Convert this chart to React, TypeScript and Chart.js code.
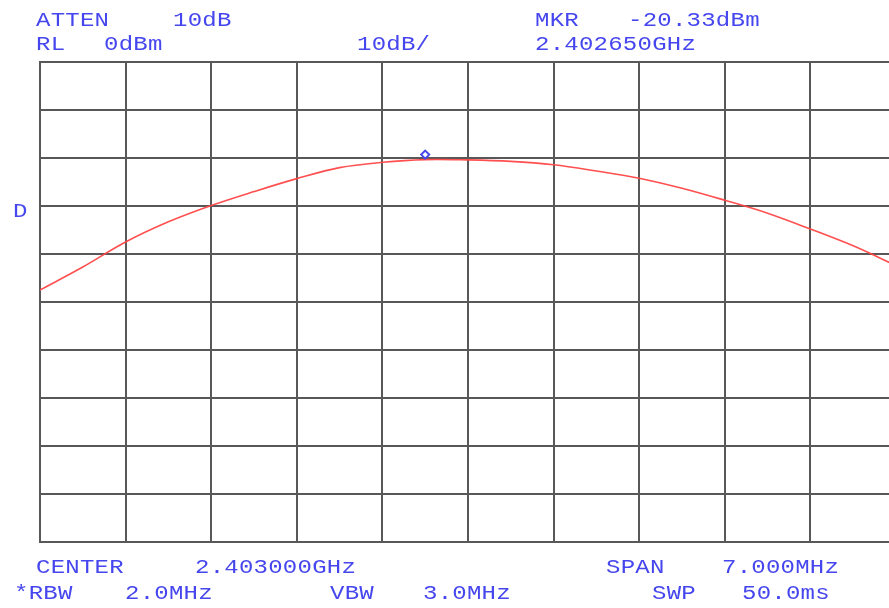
import React, { useEffect, useRef } from "react";
import { Chart, registerables } from "chart.js";

Chart.register(...registerables);

// Frequency axis in MHz (center 2403.000 MHz, span 7.000 MHz)
const freqMHz = [
  2399.5, 2399.85, 2400.2, 2400.55, 2400.9, 2401.25, 2401.6, 2401.95, 2402.3, 2402.65, 2403.0,
  2403.35, 2403.7, 2404.05, 2404.4, 2404.75, 2405.1, 2405.45, 2405.8, 2406.15, 2406.5,
];
// Trace level in dBm
const levelDbm = [
  -47.5, -42.7, -37.5, -33.3, -29.9, -27.0, -24.3, -22.0, -20.9, -20.33, -20.4,
  -20.7, -21.4, -22.7, -24.2, -26.3, -28.8, -31.5, -34.8, -38.3, -42.4,
];
const markerFreq = 2402.65;
const markerLevel = -20.33;
const gridFreqs = [2399.5, 2400.2, 2400.9, 2401.6, 2402.3, 2403.0, 2403.7, 2404.4, 2405.1, 2405.8, 2406.5];

const topLeftLabels = ["ATTEN", "10dB", "RL", "0dBm", "10dB/"];
const topRightLabels = ["MKR", "-20.33dBm", "2.402650GHz"];
const bottomLabels = ["CENTER", "2.403000GHz", "SPAN", "7.000MHz", "*RBW", "2.0MHz", "VBW", "3.0MHz", "SWP", "50.0ms"];

const GRID = "#585858";
const BLUE = "#4646ee";

const markerPlugin = {
  id: "markerPlugin",
  afterDatasetsDraw(chart: any) {
    const { ctx, scales } = chart;
    const px = scales.x.getPixelForValue(markerFreq);
    const py = scales.y.getPixelForValue(markerLevel) - 5;
    ctx.save();
    ctx.strokeStyle = BLUE;
    ctx.lineWidth = 2;
    ctx.beginPath();
    ctx.moveTo(px, py - 4);
    ctx.lineTo(px + 4, py);
    ctx.lineTo(px, py + 4);
    ctx.lineTo(px - 4, py);
    ctx.closePath();
    ctx.stroke();
    ctx.restore();
  },
};

const textStyle: React.CSSProperties = {
  position: "absolute",
  fontFamily: "'Liberation Mono', 'DejaVu Sans Mono', monospace",
  fontSize: "20px",
  lineHeight: "20px",
  letterSpacing: "0.2px",
  color: BLUE,
  whiteSpace: "pre",
  transform: "scaleX(1.2)",
  transformOrigin: "0 0",
};

function Label({ x, base, text }: { x: number; base: number; text: string }) {
  return <div style={{ ...textStyle, left: x, top: base - 15.3 }}>{text}</div>;
}

export default function App() {
  const ref = useRef<HTMLCanvasElement>(null);
  useEffect(() => {
    if (!ref.current) return;
    const chart = new Chart(ref.current, {
      type: "line",
      data: {
        datasets: [
          {
            data: freqMHz.map((f, i) => ({ x: f, y: levelDbm[i] })),
            borderColor: "rgba(255,70,70,0.95)",
            borderWidth: 1.6,
            pointRadius: 0,
            tension: 0.35,
            fill: false,
          },
        ],
      },
      options: {
        animation: false,
        responsive: false,
        maintainAspectRatio: false,
        layout: { padding: { left: 40, top: 62, right: 4, bottom: 66 } },
        plugins: { legend: { display: false }, tooltip: { enabled: false }, title: { display: false } },
        scales: {
          x: {
            type: "linear",
            min: 2399.5,
            max: 2406.5,
            afterBuildTicks: (scale: any) => {
              scale.ticks = gridFreqs.map((v) => ({ value: v }));
            },
            ticks: { display: false },
            grid: { color: GRID, lineWidth: 2, drawTicks: false },
            border: { color: GRID, width: 2 },
          },
          y: {
            type: "linear",
            min: -100,
            max: 0,
            ticks: { display: false, stepSize: 10 },
            grid: { color: GRID, lineWidth: 2, drawTicks: false },
            border: { color: GRID, width: 2 },
          },
        },
      },
      plugins: [markerPlugin],
    } as any);
    return () => chart.destroy();
  }, []);

  return (
    <div
      style={{
        position: "absolute",
        left: 0,
        top: 0,
        width: 889,
        height: 608,
        overflow: "hidden",
        background: "#fff",
      }}
    >
      <canvas ref={ref} width={900} height={608} style={{ position: "absolute", left: 0, top: 0, width: 900, height: 608 }} />
      <Label x={36} base={26} text={topLeftLabels[0]} />
      <Label x={173} base={26} text={topLeftLabels[1]} />
      <Label x={36} base={50} text={topLeftLabels[2]} />
      <Label x={104} base={50} text={topLeftLabels[3]} />
      <Label x={357} base={50} text={topLeftLabels[4]} />
      <Label x={535} base={26} text={topRightLabels[0]} />
      <Label x={628} base={26} text={topRightLabels[1]} />
      <Label x={535} base={50} text={topRightLabels[2]} />
      <Label x={13} base={217} text="D" />
      <Label x={36} base={573} text={bottomLabels[0]} />
      <Label x={195} base={573} text={bottomLabels[1]} />
      <Label x={606} base={573} text={bottomLabels[2]} />
      <Label x={722} base={573} text={bottomLabels[3]} />
      <Label x={14} base={599} text={bottomLabels[4]} />
      <Label x={125} base={599} text={bottomLabels[5]} />
      <Label x={330} base={599} text={bottomLabels[6]} />
      <Label x={423} base={599} text={bottomLabels[7]} />
      <Label x={652} base={599} text={bottomLabels[8]} />
      <Label x={742} base={599} text={bottomLabels[9]} />
    </div>
  );
}
